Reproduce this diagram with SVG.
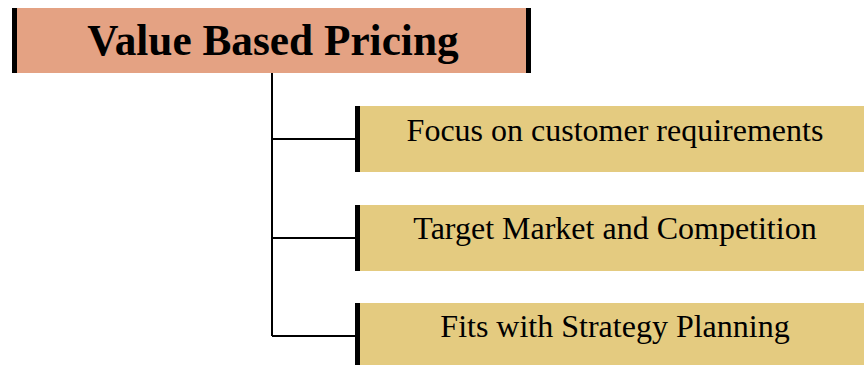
<svg xmlns="http://www.w3.org/2000/svg" width="864" height="365" viewBox="0 0 864 365">
<style>
.t{font-family:"Liberation Serif","Times New Roman",serif;fill:#000;text-anchor:middle}
.title{font-size:43.3px;font-weight:bold}
.item{font-size:32px}
.child{fill:#E4CB80}
.bar{fill:#000}
.conn{stroke:#000;stroke-width:2;fill:none}
</style>
<rect width="864" height="365" fill="#fff"/>
<g id="root">
<rect x="12" y="8" width="519" height="65" fill="#E4A283"/>
<rect class="bar" x="12" y="8" width="5" height="65"/>
<rect class="bar" x="526" y="8" width="5" height="65"/>
<text class="t title" x="273" y="55">Value Based Pricing</text>
</g>
<g id="connectors">
<path class="conn" d="M272 73 V336 M272 139 H356 M272 238 H356 M272 336 H356"/>
</g>
<g id="n1">
<rect class="child" x="355" y="106" width="509" height="66"/>
<rect class="bar" x="355" y="106" width="5" height="66"/>
<text class="t item" x="615" y="141">Focus on customer requirements</text>
</g>
<g id="n2">
<rect class="child" x="355" y="205" width="509" height="66"/>
<rect class="bar" x="355" y="205" width="5" height="66"/>
<text class="t item" x="615" y="239">Target Market and Competition</text>
</g>
<g id="n3">
<rect class="child" x="355" y="303" width="509" height="66"/>
<rect class="bar" x="355" y="303" width="5" height="66"/>
<text class="t item" x="615" y="337">Fits with Strategy Planning</text>
</g>
</svg>
